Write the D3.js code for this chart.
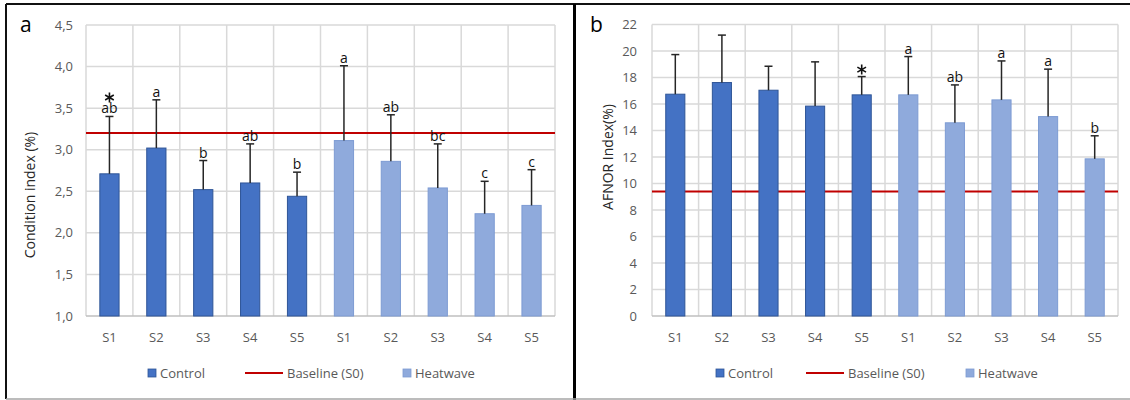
<!DOCTYPE html>
<html>
<head>
<meta charset="utf-8">
<script src="https://cdn.jsdelivr.net/npm/d3@7"></script>
<style>
  body { margin: 0; background: #fff; }
  text { font-family: "Open Sans", "Noto Sans", sans-serif; }
</style>
</head>
<body>
<svg id="chart" width="1130" height="400"></svg>
<script>
// sampling days, same for both treatments
const sampleDays = ["S1", "S2", "S3", "S4", "S5"];

// condition index (%) - panel a
const conditionControl = [2.71, 3.02, 2.52, 2.60, 2.44];
const conditionControlSD = [0.69, 0.58, 0.35, 0.47, 0.29];
const conditionHeat = [3.11, 2.86, 2.54, 2.23, 2.33];
const conditionHeatSD = [0.90, 0.56, 0.53, 0.39, 0.43];
const conditionLettersControl = ["ab", "a", "b", "ab", "b"];
const conditionLettersHeat = ["a", "ab", "bc", "c", "c"];
const conditionStarControl = [true, false, false, false, false];
const conditionBaseline = 3.2;
const conditionTicks = [1.0, 1.5, 2.0, 2.5, 3.0, 3.5, 4.0, 4.5];

// AFNOR index (%) - panel b
const afnorControl = [16.74, 17.62, 17.04, 15.84, 16.69];
const afnorControlSD = [2.99, 3.58, 1.81, 3.34, 1.38];
const afnorHeat = [16.69, 14.58, 16.31, 15.05, 11.86];
const afnorHeatSD = [2.89, 2.86, 2.94, 3.58, 1.74];
const afnorLettersControl = ["", "", "", "", ""];
const afnorLettersHeat = ["a", "ab", "a", "a", "b"];
const afnorStarControl = [false, false, false, false, true];
const afnorBaseline = 9.4;
const afnorTicks = [0, 2, 4, 6, 8, 10, 12, 14, 16, 18, 20, 22];

const colors = {
  control: "#4472C4", controlEdge: "#2F5597",
  heat: "#8FAADC", heatEdge: "#7D9BD3",
  baseline: "#C00000", grid: "#d9d9d9", tick: "#595959"
};

const comma = d3.formatLocale({ decimal: ",", thousands: ".", grouping: [3], currency: ["", ""] });

const svg = d3.select("#chart");

// frame around the two panels
svg.append("line").attr("x1", 6).attr("x2", 1130).attr("y1", 4).attr("y2", 4)
  .attr("stroke", "#111").attr("stroke-width", 2);
svg.append("line").attr("x1", 6).attr("x2", 6).attr("y1", 4).attr("y2", 399)
  .attr("stroke", "#111").attr("stroke-width", 2);
svg.append("line").attr("x1", 574.5).attr("x2", 574.5).attr("y1", 4).attr("y2", 400)
  .attr("stroke", "#000").attr("stroke-width", 3);
svg.append("line").attr("x1", 6).attr("x2", 1130).attr("y1", 399).attr("y2", 399)
  .attr("stroke", "#a6a6a6").attr("stroke-width", 1.5);

// asterisk marker (significant vs baseline)
const starPath = d3.symbolAsterisk
  ? d3.symbol(d3.symbolAsterisk, 70)()
  : "M0,-5.5V5.5M-4.8,-2.75L4.8,2.75M-4.8,2.75L4.8,-2.75";

function drawPanel(p) {
  const g = svg.append("g");

  // one row per bar: 5 control then 5 heatwave
  const rows = [];
  sampleDays.forEach((d, i) => rows.push({ day: d, group: "control", v: p.control[i], sd: p.controlSD[i], letter: p.lettersControl[i], star: p.starControl[i] }));
  sampleDays.forEach((d, i) => rows.push({ day: d, group: "heat", v: p.heat[i], sd: p.heatSD[i], letter: p.lettersHeat[i], star: false }));

  const x = d3.scaleBand().domain(d3.range(rows.length)).range([p.left, p.right]).padding(0);
  const y = d3.scaleLinear().domain([p.ticks[0], p.ticks[p.ticks.length - 1]]).range([p.bottom, p.top]);
  const step = x.step();
  const barW = step * 0.41;

  // grid
  g.selectAll(".hgrid").data(p.ticks.slice(1)).join("line")
    .attr("x1", p.left).attr("x2", p.right)
    .attr("y1", d => y(d)).attr("y2", d => y(d))
    .attr("stroke", colors.grid).attr("stroke-width", 1.5);
  g.selectAll(".vgrid").data(d3.range(rows.length + 1)).join("line")
    .attr("x1", d => p.left + d * step).attr("x2", d => p.left + d * step)
    .attr("y1", p.top).attr("y2", p.bottom)
    .attr("stroke", colors.grid).attr("stroke-width", 1.5);

  // y axis tick labels
  g.selectAll(".ytick").data(p.ticks).join("text")
    .attr("x", p.left - p.tickGap).attr("y", d => y(d) + 4.5)
    .attr("text-anchor", "end").attr("font-size", 13).attr("fill", colors.tick)
    .text(p.format);

  // x axis line and labels
  g.append("line").attr("x1", p.left).attr("x2", p.right)
    .attr("y1", p.bottom).attr("y2", p.bottom)
    .attr("stroke", "#bfbfbf").attr("stroke-width", 1.5);
  g.selectAll(".xtick").data(rows).join("text")
    .attr("x", (d, i) => x(i) + step / 2).attr("y", 342)
    .attr("text-anchor", "middle").attr("font-size", 13).attr("fill", colors.tick)
    .text(d => d.day);

  // baseline (S0)
  g.append("line").attr("x1", p.left).attr("x2", p.right)
    .attr("y1", y(p.baseline)).attr("y2", y(p.baseline))
    .attr("stroke", colors.baseline).attr("stroke-width", 2);

  // bars
  g.selectAll(".bar").data(rows).join("rect")
    .attr("x", (d, i) => x(i) + (step - barW) / 2)
    .attr("y", d => y(d.v))
    .attr("width", barW)
    .attr("height", d => p.bottom - y(d.v))
    .attr("fill", d => d.group === "control" ? colors.control : colors.heat)
    .attr("stroke", d => d.group === "control" ? colors.controlEdge : colors.heatEdge)
    .attr("stroke-width", 1);

  // error bars (upper only)
  const err = g.selectAll(".err").data(rows).join("g")
    .attr("transform", (d, i) => `translate(${x(i) + step / 2},0)`);
  err.append("line").attr("x1", 0).attr("x2", 0)
    .attr("y1", d => y(d.v)).attr("y2", d => y(d.v + d.sd))
    .attr("stroke", "#262626").attr("stroke-width", 1.5);
  err.append("line").attr("x1", -4).attr("x2", 4)
    .attr("y1", d => y(d.v + d.sd)).attr("y2", d => y(d.v + d.sd))
    .attr("stroke", "#262626").attr("stroke-width", 1.5);

  // significance letters and stars
  err.append("text")
    .attr("y", d => y(d.v + d.sd) - 3)
    .attr("text-anchor", "middle").attr("font-size", 14).attr("fill", "#111")
    .text(d => d.letter);
  err.filter(d => d.star).append("path")
    .attr("d", starPath)
    .attr("transform", d => `translate(0,${d.letter ? y(d.v + d.sd) - 19 : y(d.v + d.sd) - 7})`)
    .attr("fill", "none").attr("stroke", "#111").attr("stroke-width", 1.6);

  // panel letter
  g.append("text").attr("x", p.labelX).attr("y", 32)
    .attr("font-size", 21).attr("fill", "#000").text(p.label);

  // y axis title
  g.append("text")
    .attr("transform", `translate(${p.titleX},${p.titleY}) rotate(-90)`)
    .attr("text-anchor", "middle").attr("font-size", 14).attr("fill", "#262626")
    .text(p.title);

  // legend
  const L = p.legend;
  g.append("rect").attr("x", L.control).attr("y", 369).attr("width", 8).attr("height", 8)
    .attr("fill", colors.control).attr("stroke", colors.controlEdge).attr("stroke-width", 0.8);
  g.append("text").attr("x", L.control + 12).attr("y", 378).attr("font-size", 13)
    .attr("fill", colors.tick).text("Control");
  g.append("line").attr("x1", L.line).attr("x2", L.line + 38).attr("y1", 373).attr("y2", 373)
    .attr("stroke", colors.baseline).attr("stroke-width", 2);
  g.append("text").attr("x", L.line + 42).attr("y", 378).attr("font-size", 13)
    .attr("fill", colors.tick).text("Baseline (S0)");
  g.append("rect").attr("x", L.heat).attr("y", 369).attr("width", 8).attr("height", 8)
    .attr("fill", colors.heat).attr("stroke", colors.heatEdge).attr("stroke-width", 0.8);
  g.append("text").attr("x", L.heat + 12).attr("y", 378).attr("font-size", 13)
    .attr("fill", colors.tick).text("Heatwave");
}

drawPanel({
  label: "a", labelX: 20,
  title: "Condition index (%)", titleX: 35, titleY: 195,
  left: 86, right: 555, top: 25, bottom: 316, tickGap: 13,
  ticks: conditionTicks, format: comma.format(".1f"),
  control: conditionControl, controlSD: conditionControlSD,
  heat: conditionHeat, heatSD: conditionHeatSD,
  lettersControl: conditionLettersControl, lettersHeat: conditionLettersHeat,
  starControl: conditionStarControl, baseline: conditionBaseline,
  legend: { control: 148, line: 245, heat: 403 }
});

drawPanel({
  label: "b", labelX: 590,
  title: "AFNOR Index(%)", titleX: 613, titleY: 157,
  left: 652, right: 1118, top: 24.5, bottom: 316, tickGap: 15,
  ticks: afnorTicks, format: d3.format("d"),
  control: afnorControl, controlSD: afnorControlSD,
  heat: afnorHeat, heatSD: afnorHeatSD,
  lettersControl: afnorLettersControl, lettersHeat: afnorLettersHeat,
  starControl: afnorStarControl, baseline: afnorBaseline,
  legend: { control: 716, line: 806, heat: 966 }
});
</script>
</body>
</html>
